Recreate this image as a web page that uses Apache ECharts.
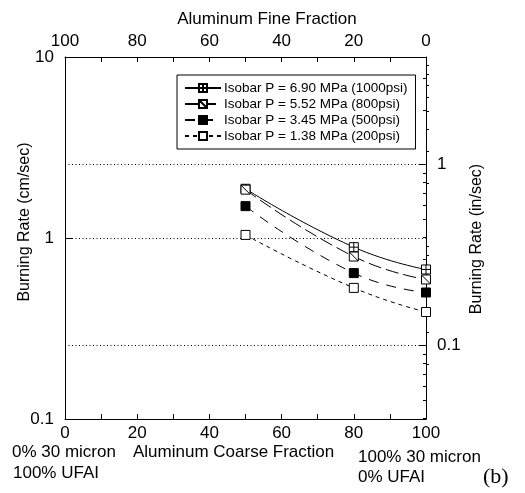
<!DOCTYPE html>
<html>
<head>
<meta charset="utf-8">
<script src="https://cdn.jsdelivr.net/npm/echarts@6/dist/echarts.min.js"></script>
<style>
  html, body { margin: 0; padding: 0; background: #fff; }
  #chart { width: 525px; height: 493px; }
</style>
</head>
<body>
<div id="chart"></div>
<script>
// Burning rate (cm/sec) versus aluminum coarse fraction (%) at four pressures
const coarseFraction = [50, 80, 100];
const rate690 = [1.87, 0.89, 0.67];
const rate552 = [1.85, 0.79, 0.59];
const rate345 = [1.50, 0.64, 0.50];
const rate138 = [1.04, 0.53, 0.39];

const seriesNames = [
  'Isobar P = 6.90 MPa (1000psi)',
  'Isobar P = 5.52 MPa (800psi)',
  'Isobar P = 3.45 MPa (500psi)',
  'Isobar P = 1.38 MPa (200psi)'
];

// Axis tick values
const xTicksLabelled = [0, 20, 40, 60, 80, 100];
const cmMinorTicks = [0.2, 0.3, 0.4, 0.5, 0.6, 0.7, 0.8, 0.9, 2, 3, 4, 5, 6, 7, 8, 9];
const inMajorTicks = [0.1, 1];
const inMinorTicks = [0.04, 0.05, 0.06, 0.07, 0.08, 0.09, 0.2, 0.3, 0.4, 0.5, 0.6, 0.7, 0.8, 0.9, 2, 3];

const CM_PER_IN = 2.54;
const SANS = '"Liberation Sans", Arial, Helvetica, sans-serif';

const chart = echarts.init(document.getElementById('chart'), null, { renderer: 'canvas' });

const axisFont = { color: '#000', fontSize: 17, fontFamily: SANS };
const blackLine = { color: '#000', width: 1 };

function xAxisDef(top) {
  return {
    type: 'value',
    position: top ? 'top' : 'bottom',
    inverse: top,
    min: 0, max: 100, interval: 10,
    axisLine: { show: true, lineStyle: blackLine },
    axisTick: { show: true, inside: true, length: 5, lineStyle: blackLine },
    axisLabel: Object.assign({
      margin: top ? 7 : 6,
      formatter: v => (xTicksLabelled.indexOf(v) >= 0 ? String(v) : '')
    }, axisFont),
    splitLine: { show: false }
  };
}

const dotted = { color: '#000', width: 1, type: [1, 2.5] };

const lineSeries = (name, data, symbol, fill, dash) => ({
  name,
  type: 'line',
  xAxisIndex: 0,
  yAxisIndex: 0,
  smooth: true,
  data: coarseFraction.map((x, i) => [x, data[i]]),
  symbol,
  symbolSize: 9,
  lineStyle: { color: '#000', width: 1, type: dash },
  itemStyle: { color: fill, borderColor: '#000', borderWidth: 1 },
  emphasis: { disabled: true },
  z: 3
});

const option = {
  animation: false,
  backgroundColor: '#fff',
  textStyle: { fontFamily: SANS },
  grid: { left: 65, right: 99, top: 57, bottom: 74, containLabel: false },
  xAxis: [xAxisDef(false), xAxisDef(true)],
  yAxis: [
    { // cm/sec, decades
      type: 'log', logBase: 10, min: 0.1, max: 10, position: 'left',
      axisLine: { show: true, lineStyle: blackLine },
      axisTick: { show: true, inside: true, length: 7, lineStyle: blackLine },
      axisLabel: Object.assign({ margin: 11 }, axisFont),
      splitLine: { show: true, lineStyle: dotted }
    },
    { // cm/sec, minor ticks
      type: 'log', logBase: 10, min: 0.1, max: 10, position: 'left',
      axisLine: { show: false },
      axisTick: { show: true, inside: true, length: 3, lineStyle: blackLine, customValues: cmMinorTicks },
      axisLabel: { show: false },
      splitLine: { show: false }
    },
    { // in/sec, decades
      type: 'log', logBase: 10, min: 0.1 / CM_PER_IN, max: 10 / CM_PER_IN, position: 'right',
      axisLine: { show: true, lineStyle: blackLine },
      axisTick: { show: true, inside: true, length: 7, lineStyle: blackLine, customValues: inMajorTicks },
      axisLabel: Object.assign({ margin: 11, customValues: inMajorTicks }, axisFont),
      splitLine: { show: true, lineStyle: dotted }
    },
    { // in/sec, minor ticks
      type: 'log', logBase: 10, min: 0.1 / CM_PER_IN, max: 10 / CM_PER_IN, position: 'right',
      axisLine: { show: false },
      axisTick: { show: true, inside: true, length: 3, lineStyle: blackLine, customValues: inMinorTicks },
      axisLabel: { show: false },
      splitLine: { show: false }
    }
  ],
  legend: {
    orient: 'vertical',
    left: 177, top: 75,
    itemWidth: 36, itemHeight: 10, itemGap: 2,
    padding: [6, 8, 6, 7],
    borderColor: '#000', borderWidth: 1,
    backgroundColor: '#fff',
    textStyle: { color: '#000', fontSize: 13.5, fontFamily: SANS, padding: [0, 0, 0, -2] },
    data: seriesNames,
    selectedMode: false,
    z: 10
  },
  series: [
    lineSeries(seriesNames[0], rate690, 'path://M0,0L10,0L10,10L0,10Z M5,0L5,10 M0,5L10,5', '#fff', 'solid'),
    lineSeries(seriesNames[1], rate552, 'path://M0,0L10,0L10,10L0,10Z M0,0L10,10', '#fff', [13, 5]),
    lineSeries(seriesNames[2], rate345, 'rect', '#000', [10, 8]),
    lineSeries(seriesNames[3], rate138, 'rect', '#fff', [4, 4])
  ],
  graphic: [
    { type: 'text', x: 267, y: 19, style: { text: 'Aluminum Fine Fraction', align: 'center', verticalAlign: 'middle', font: '17px ' + SANS, fill: '#000' } },
    { type: 'text', x: 25, y: 222, rotation: Math.PI / 2, style: { text: 'Burning Rate (cm/sec)', align: 'center', verticalAlign: 'middle', font: '16px ' + SANS, fill: '#000' } },
    { type: 'text', x: 477, y: 239, rotation: Math.PI / 2, style: { text: 'Burning Rate (in/sec)', align: 'center', verticalAlign: 'middle', font: '16px ' + SANS, fill: '#000' } },
    { type: 'text', x: 12, y: 452, style: { text: '0% 30 micron', align: 'left', verticalAlign: 'middle', font: '17px ' + SANS, fill: '#000' } },
    { type: 'text', x: 13, y: 473, style: { text: '100% UFAI', align: 'left', verticalAlign: 'middle', font: '17px ' + SANS, fill: '#000' } },
    { type: 'text', x: 133, y: 452, style: { text: 'Aluminum Coarse Fraction', align: 'left', verticalAlign: 'middle', font: '17px ' + SANS, fill: '#000' } },
    { type: 'text', x: 358, y: 457, style: { text: '100% 30 micron', align: 'left', verticalAlign: 'middle', font: '17px ' + SANS, fill: '#000' } },
    { type: 'text', x: 358, y: 477, style: { text: '0% UFAI', align: 'left', verticalAlign: 'middle', font: '17px ' + SANS, fill: '#000' } },
    { type: 'text', x: 483, y: 477, style: { text: '(b)', align: 'left', verticalAlign: 'middle', font: '22px "Liberation Serif", "Times New Roman", serif', fill: '#000' } }
  ]
};

chart.setOption(option);
</script>
</body>
</html>
